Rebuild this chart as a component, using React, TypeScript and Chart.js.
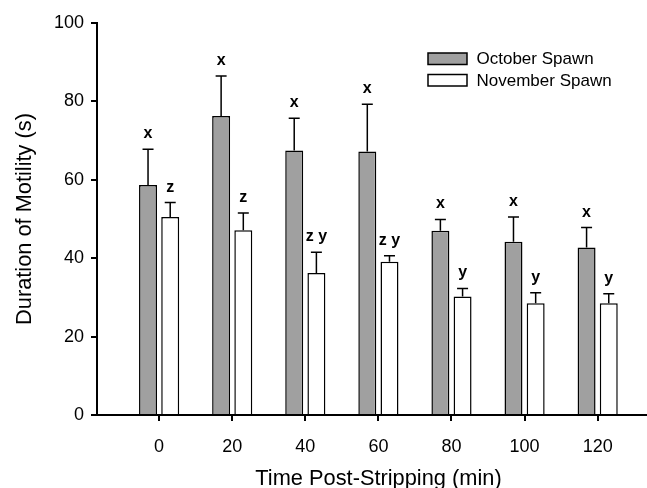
import React, { useEffect, useRef } from 'react';
import { Chart, registerables } from 'chart.js';

Chart.register(...registerables);

// ---- Data ----
const times = [0, 20, 40, 60, 80, 100, 120];
const xTickValues = [0, 20, 40, 60, 80, 100, 120];
const seriesNames = ['October Spawn', 'November Spawn'];
const octoberMean = [58.7, 76.3, 67.5, 67.2, 47.0, 44.2, 42.7];
const octoberErr = [9.1, 10.2, 8.2, 12.1, 2.9, 6.3, 5.1];
const novemberMean = [50.5, 47.1, 36.2, 39.1, 30.2, 28.5, 28.5];
const novemberErr = [3.7, 4.4, 5.3, 1.5, 2.1, 2.7, 2.4];
const octoberLetters = ['x', 'x', 'x', 'x', 'x', 'x', 'x'];
const novemberLetters = ['z', 'z', 'z y', 'z y', 'y', 'y', 'y'];
const xTitle = 'Time Post-Stripping (min)';
const yTitle = 'Duration of Motility (s)';

const FONT = 'Arial, "Liberation Sans", Helvetica, sans-serif';
const seriesFill = ['#a0a0a0', '#ffffff'];
const errorArrays = [octoberErr, novemberErr];
const letterArrays = [octoberLetters, novemberLetters];

const errorLetterPlugin = {
  id: 'errorLetters',
  afterDatasetsDraw(chart: any) {
    const ctx = chart.ctx;
    const yScale = chart.scales.y;
    chart.data.datasets.forEach((ds: any, di: number) => {
      const meta = chart.getDatasetMeta(di);
      const errs = errorArrays[di];
      const letters = letterArrays[di];
      meta.data.forEach((el: any, i: number) => {
        const v = ds.data[i].y;
        const top = yScale.getPixelForValue(v + errs[i]);
        const x = el.x;
        ctx.save();
        ctx.strokeStyle = '#000';
        ctx.lineWidth = 1.5;
        ctx.beginPath();
        ctx.moveTo(x, el.y);
        ctx.lineTo(x, top);
        ctx.moveTo(x - 5.5, top);
        ctx.lineTo(x + 5.5, top);
        ctx.stroke();
        ctx.font = `bold 16px ${FONT}`;
        ctx.textAlign = 'center';
        ctx.textBaseline = 'alphabetic';
        ctx.fillStyle = '#000';
        ctx.fillText(letters[i], x, top - 11);
        ctx.restore();
      });
    });
  },
};

const legendAndTitlePlugin = {
  id: 'boxLegend',
  afterDraw(chart: any) {
    const ctx = chart.ctx;
    const left = 428;
    const top0 = 53;
    const rowH = 21.5;
    chart.data.datasets.forEach((ds: any, i: number) => {
      const y = top0 + i * rowH;
      ctx.save();
      ctx.fillStyle = ds.backgroundColor;
      ctx.fillRect(left, y, 39, 11.5);
      ctx.strokeStyle = '#000';
      ctx.lineWidth = 1.5;
      ctx.strokeRect(left, y, 39, 11.5);
      ctx.fillStyle = '#000';
      ctx.font = `17px ${FONT}`;
      ctx.textAlign = 'left';
      ctx.textBaseline = 'middle';
      ctx.fillText(ds.label, 476.5, y + 6.5);
      ctx.restore();
    });
    // x-axis title
    ctx.save();
    ctx.fillStyle = '#000';
    ctx.font = `21.8px ${FONT}`;
    ctx.textAlign = 'center';
    ctx.textBaseline = 'alphabetic';
    ctx.fillText(xTitle, 378.5, 485);
    ctx.restore();
  },
};

export default function App() {
  const canvasRef = useRef<HTMLCanvasElement | null>(null);

  useEffect(() => {
    if (!canvasRef.current) return;
    const chart = new Chart(canvasRef.current, {
      type: 'bar',
      data: {
        datasets: [
          {
            label: seriesNames[0],
            data: times.map((t, i) => ({ x: t, y: octoberMean[i] })),
            backgroundColor: seriesFill[0],
            borderColor: '#000',
            borderWidth: 1.5,
            categoryPercentage: 0.607,
            barPercentage: 0.81,
          },
          {
            label: seriesNames[1],
            data: times.map((t, i) => ({ x: t, y: novemberMean[i] })),
            backgroundColor: seriesFill[1],
            borderColor: '#000',
            borderWidth: 1.5,
            categoryPercentage: 0.607,
            barPercentage: 0.81,
          },
        ],
      },
      options: {
        responsive: false,
        devicePixelRatio: 1,
        animation: false,
        layout: { padding: { top: 23, right: 0, bottom: 0, left: 0 } },
        plugins: {
          legend: { display: false },
          tooltip: { enabled: false },
        },
        scales: {
          x: {
            type: 'linear',
            min: -17,
            max: 133.5,
            offset: false,
            afterBuildTicks: (s: any) => {
              s.ticks = xTickValues.map((v) => ({ value: v }));
            },
            afterFit: (s: any) => {
              s.height = 73;
            },
            ticks: {
              color: '#000',
              font: { size: 18, family: FONT },
              padding: 15.5,
              maxRotation: 0,
              autoSkip: false,
              callback: (v: any) => String(v),
            },
            grid: {
              display: true,
              drawOnChartArea: false,
              drawTicks: true,
              tickLength: 6,
              color: '#000',
              lineWidth: 2,
              offset: false,
            },
            border: { display: true, color: '#000', width: 2 },
            title: { display: false },
          },
          y: {
            min: 0,
            max: 100,
            afterFit: (s: any) => {
              s.width = 97;
            },
            ticks: {
              stepSize: 20,
              color: '#000',
              font: { size: 18, family: FONT },
              padding: 7,
            },
            grid: {
              display: true,
              drawOnChartArea: false,
              drawTicks: true,
              tickLength: 6,
              color: '#000',
              lineWidth: 2,
            },
            border: { display: true, color: '#000', width: 2 },
            title: {
              display: true,
              text: yTitle,
              color: '#000',
              font: { size: 21.8, family: FONT, lineHeight: 1.2 },
              padding: { top: 12, bottom: 0 },
            },
          },
        },
      },
      plugins: [errorLetterPlugin, legendAndTitlePlugin],
    } as any);
    return () => chart.destroy();
  }, []);

  return (
    <div
      style={{
        position: 'absolute',
        left: 0,
        top: 0,
        width: 647,
        height: 488,
        overflow: 'hidden',
        background: '#fff',
      }}
    >
      <canvas
        ref={canvasRef}
        width={647}
        height={488}
        style={{ display: 'block', width: 647, height: 488 }}
      />
    </div>
  );
}
